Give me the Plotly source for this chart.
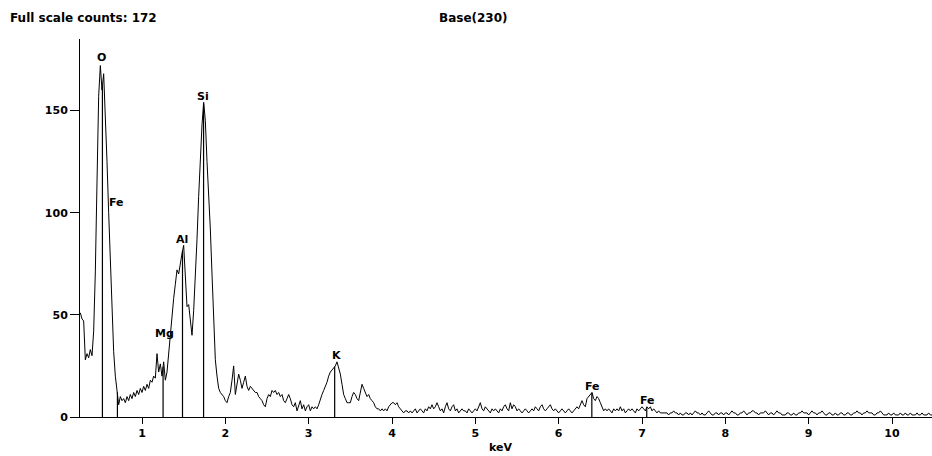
import numpy as np
import plotly.graph_objects as go

# ---- Spectrum data (counts per channel) ----
CHANNEL_START_KEV = 0.26
CHANNEL_WIDTH_KEV = 0.02
COUNTS = [
    51, 48, 47, 28, 31, 29, 33, 30, 42, 71,
    115, 157, 172, 160, 168, 150, 125, 100, 75, 52,
    32, 20, 14, 6, 10, 8, 9, 7, 10, 8,
    11, 9, 12, 10, 13, 11, 14, 12, 15, 13,
    16, 14, 18, 17, 20, 19, 31, 22, 26, 20,
    27, 18, 22, 32, 40, 48, 58, 65, 72, 70,
    76, 80, 84, 68, 54, 55, 48, 40, 52, 68,
    87, 108, 128, 143, 154, 145, 125, 110, 92, 70,
    45, 28, 20, 14, 12, 11, 10, 8, 7, 10,
    12, 18, 25, 11, 16, 21, 18, 14, 17, 20,
    15, 13, 15, 14, 13, 12, 12, 10, 9, 8,
    6, 5, 9, 11, 10, 13, 12, 13, 11, 12,
    10, 11, 8, 7, 9, 11, 9, 6, 5, 7,
    3, 6, 8, 4, 6, 3, 5, 6, 3, 5,
    4, 5, 4, 6, 9, 11, 13, 15, 17, 20,
    22, 23, 24, 25, 27, 24, 21, 16, 11, 9,
    7, 7, 7, 10, 12, 11, 9, 8, 12, 16,
    14, 12, 10, 11, 9, 8, 7, 5, 4, 4,
    3, 4, 3, 4, 3, 5, 6, 7, 7, 6,
    7, 5, 4, 3, 2, 3, 3, 2, 3, 2,
    3, 4, 2, 3, 4, 3, 2, 4, 3, 5,
    4, 6, 4, 5, 7, 5, 3, 4, 2, 5,
    7, 4, 3, 5, 6, 3, 4, 2, 3, 4,
    3, 3, 2, 4, 3, 2, 3, 4, 3, 5,
    7, 4, 3, 5, 4, 3, 2, 4, 3, 4,
    3, 2, 4, 3, 5, 6, 4, 3, 7, 4,
    6, 5, 3, 4, 3, 2, 3, 4, 3, 2,
    3, 4, 3, 5, 4, 3, 5, 6, 4, 3,
    4, 5, 6, 4, 3, 4, 3, 2, 3, 4,
    3, 2, 3, 4, 3, 2, 3, 4, 5, 4,
    6, 8, 6, 5, 9, 10, 11, 12, 9, 8,
    10, 9, 7, 5, 3, 4, 3, 4, 3, 2,
    4, 3, 4, 3, 5, 3, 4, 2, 3, 4,
    3, 4, 3, 2, 4, 3, 4, 5, 4, 3,
    5, 4, 5, 3, 4, 3, 2, 3, 2, 2,
    2, 2, 2, 1, 2, 2, 3, 2, 2, 1,
    2, 1, 1, 2, 2, 1, 2, 1, 2, 3,
    2, 2, 1, 2, 1, 1, 2, 3, 2, 1,
    1, 2, 2, 1, 2, 2, 1, 2, 2, 1,
    2, 3, 2, 2, 1, 1, 2, 2, 3, 2,
    1, 2, 2, 3, 3, 2, 2, 1, 2, 2,
    2, 3, 2, 1, 2, 2, 1, 2, 3, 2,
    2, 1, 1, 1, 2, 2, 1, 1, 2, 1,
    1, 2, 2, 3, 2, 2, 2, 1, 2, 3,
    2, 2, 1, 2, 2, 3, 2, 1, 1, 2,
    2, 1, 1, 2, 1, 1, 2, 2, 1, 1,
    2, 2, 1, 1, 2, 2, 3, 2, 2, 1,
    2, 2, 3, 2, 2, 2, 1, 1, 2, 2,
    3, 2, 1, 1, 1, 2, 1, 1, 2, 1,
    1, 1, 2, 1, 1, 2, 1, 1, 2, 1,
    1, 1, 2, 1, 1, 2, 1, 1, 1, 2,
    1, 1,
]

# ---- Element line identifications ----
LINE_NAMES = ["O", "Fe", "Mg", "Al", "Si", "K", "Fe", "Fe"]
LINE_KEV = [0.525, 0.705, 1.253, 1.486, 1.739, 3.312, 6.398, 7.057]
LABEL_KEV = [0.51, 0.69, 1.265, 1.482, 1.733, 3.328, 6.40, 7.06]
LABEL_COUNTS = [176, 105, 41, 87, 157, 30, 15, 8.3]

X_TICKS = [1, 2, 3, 4, 5, 6, 7, 8, 9, 10]
Y_TICKS = [0, 50, 100, 150]
HEADER_LEFT = "Full scale counts: 172"
HEADER_MID = "Base(230)"
X_TITLE = "keV"

FONT = "DejaVu Sans"

energies = CHANNEL_START_KEV + CHANNEL_WIDTH_KEV * np.arange(len(COUNTS))
counts = np.array(COUNTS, dtype=float)

fig = go.Figure()
fig.add_trace(go.Scatter(
    x=energies, y=counts, mode="lines",
    line=dict(color="#000000", width=1),
    hoverinfo="skip", showlegend=False,
))

# vertical marker lines from baseline to spectrum
lx, ly = [], []
for e in LINE_KEV:
    top = float(np.interp(e, energies, counts))
    lx += [e, e, None]
    ly += [0, top, None]
fig.add_trace(go.Scatter(
    x=lx, y=ly, mode="lines",
    line=dict(color="#000000", width=1.2),
    hoverinfo="skip", showlegend=False,
))

annotations = []
for name, ex, cy in zip(LINE_NAMES, LABEL_KEV, LABEL_COUNTS):
    annotations.append(dict(
        x=ex, y=cy, xref="x", yref="y", text=name, showarrow=False,
        font=dict(family=FONT, size=11, color="#000000", weight="bold"),
        xanchor="center", yanchor="middle",
    ))

W, H = 932, 456
L, R, T, B = 80, 0, 39, 39
pw, ph = W - L - R, H - T - B

def px_x(p):
    return (p - L) / pw

def px_y(p):
    return (H - B - p) / ph

annotations.append(dict(
    x=px_x(8), y=px_y(18), xref="paper", yref="paper", text=HEADER_LEFT,
    showarrow=False, xanchor="left", yanchor="middle",
    font=dict(family=FONT, size=12, color="#000000", weight="bold"),
))
annotations.append(dict(
    x=px_x(437), y=px_y(18), xref="paper", yref="paper", text=HEADER_MID,
    showarrow=False, xanchor="left", yanchor="middle",
    font=dict(family=FONT, size=12, color="#000000", weight="bold"),
))
annotations.append(dict(
    x=px_x(500), y=px_y(447), xref="paper", yref="paper", text=X_TITLE,
    showarrow=False, xanchor="center", yanchor="middle",
    font=dict(family=FONT, size=11, color="#000000", weight="bold"),
))

fig.update_layout(
    width=W, height=H,
    margin=dict(l=L, r=R, t=T, b=B, pad=0),
    paper_bgcolor="#ffffff", plot_bgcolor="#ffffff",
    showlegend=False,
    annotations=annotations,
    xaxis=dict(
        range=[0.256, 10.48], tickmode="array", tickvals=X_TICKS,
        ticktext=[str(v) for v in X_TICKS],
        ticks="outside", ticklen=6, tickwidth=1, tickcolor="#000000",
        showline=True, linecolor="#000000", linewidth=1,
        showgrid=False, zeroline=False,
        tickfont=dict(family=FONT, size=11, color="#000000", weight="bold"),
    ),
    yaxis=dict(
        range=[0, 185], tickmode="array", tickvals=Y_TICKS,
        ticktext=[str(v) for v in Y_TICKS],
        ticks="outside", ticklen=9, tickwidth=1, tickcolor="#000000",
        showline=True, linecolor="#000000", linewidth=1,
        showgrid=False, zeroline=False,
        tickfont=dict(family=FONT, size=11, color="#000000", weight="bold"),
    ),
)

fig.write_html("out.html")
